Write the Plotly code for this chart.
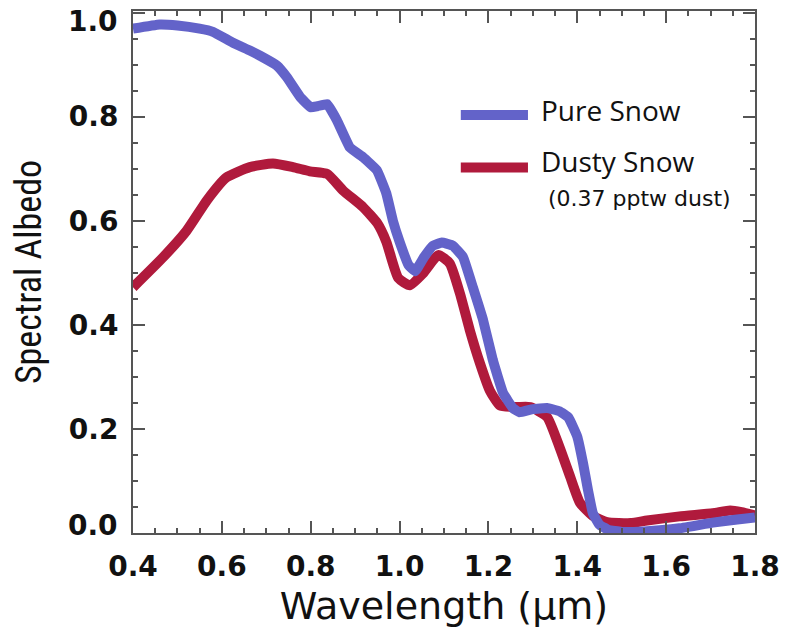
import plotly.graph_objects as go

# Pure snow spectral albedo
pure_wl = [0.40, 0.46, 0.50, 0.55, 0.58, 0.625, 0.663, 0.686, 0.724, 0.746, 0.776, 0.80,
           0.815, 0.837, 0.859, 0.888, 0.918, 0.949, 0.97, 0.985, 1.00, 1.02, 1.035, 1.055,
           1.075, 1.095, 1.12, 1.143, 1.165, 1.188, 1.21, 1.233, 1.255, 1.27, 1.30, 1.332,
           1.36, 1.38, 1.40, 1.413, 1.424, 1.435, 1.45, 1.47, 1.50, 1.55, 1.63, 1.705, 1.76, 1.80]
pure_alb = [0.969, 0.977, 0.975, 0.969, 0.963, 0.942, 0.927, 0.917, 0.898, 0.876, 0.838, 0.818,
            0.82, 0.824, 0.793, 0.741, 0.722, 0.697, 0.653, 0.60, 0.56, 0.515, 0.503, 0.53,
            0.552, 0.558, 0.552, 0.53, 0.472, 0.409, 0.332, 0.269, 0.24, 0.232, 0.238, 0.24,
            0.234, 0.222, 0.185, 0.134, 0.083, 0.038, 0.016, 0.006, 0.002, 0.003, 0.009, 0.02, 0.026, 0.03]

# Dusty snow spectral albedo
dusty_wl = [0.40, 0.468, 0.52, 0.567, 0.61, 0.663, 0.715, 0.76, 0.798, 0.837, 0.873, 0.918,
            0.95, 0.97, 0.997, 1.023, 1.053, 1.087, 1.113, 1.136, 1.158, 1.181, 1.203, 1.226,
            1.26, 1.294, 1.332, 1.36, 1.384, 1.406, 1.435, 1.467, 1.52, 1.557, 1.63, 1.705,
            1.744, 1.77, 1.80]
dusty_alb = [0.472, 0.53, 0.58, 0.64, 0.683, 0.703, 0.71, 0.703, 0.695, 0.69, 0.658, 0.626,
             0.595, 0.56, 0.49, 0.476, 0.499, 0.534, 0.518, 0.46, 0.39, 0.326, 0.274, 0.245,
             0.242, 0.242, 0.223, 0.165, 0.108, 0.058, 0.033, 0.021, 0.019, 0.024, 0.032, 0.038,
             0.043, 0.04, 0.034]

x_ticks = [0.4, 0.6, 0.8, 1.0, 1.2, 1.4, 1.6, 1.8]
y_ticks = [0.0, 0.2, 0.4, 0.6, 0.8, 1.0]
y_end_labels = ["0.0", "1.0"]   # end labels nudged inside the frame, as in the original

BLUE = "#6363c9"
RED = "#b01a3c"
AXC = "#555555"

fig = go.Figure()
fig.add_trace(go.Scatter(x=dusty_wl, y=dusty_alb, mode="lines", name="Dusty Snow",
                         line=dict(color=RED, width=10, shape="spline", smoothing=0.5)))
fig.add_trace(go.Scatter(x=pure_wl, y=pure_alb, mode="lines", name="Pure Snow",
                         line=dict(color=BLUE, width=10, shape="spline", smoothing=0.3)))

tickfont = dict(family="DejaVu Sans", size=28, color="#111111", weight="bold")
common = dict(showline=True, linecolor=AXC, linewidth=2, mirror="allticks",
              ticks="inside", ticklen=12, tickwidth=1.5, tickcolor=AXC,
              showgrid=False, zeroline=False, tickfont=tickfont, automargin=False)

fig.update_xaxes(range=[0.4, 1.8], tickvals=x_ticks,
                 ticktext=[f"{v:.1f}" for v in x_ticks], ticklabelstandoff=7,
                 ticklabeloverflow="allow",
                 minor=dict(ticks="inside", ticklen=5, tickwidth=1.5, tickcolor=AXC, dtick=0.05, tick0=0.4),
                 title=dict(text="Wavelength (μm)", font=dict(family="DejaVu Sans", size=38, color="#111111"),
                            standoff=21),
                 **common)
fig.update_yaxes(range=[0, 1.003], tickvals=y_ticks,
                 ticktext=["" if f"{v:.1f}" in y_end_labels else f"{v:.1f}" for v in y_ticks],
                 ticklabelstandoff=7,
                 minor=dict(ticks="inside", ticklen=5, tickwidth=1.5, tickcolor=AXC, dtick=0.05, tick0=0),
                 title=dict(text="Spectral Albedo",
                            font=dict(family="Liberation Sans Narrow, Roboto Condensed, Roboto", size=36, color="#111111"),
                            standoff=16),
                 **common)

# end tick labels of the y axis, kept inside the frame height
for txt, ypos in zip(y_end_labels, [0.0153, 0.979]):
    fig.add_annotation(xref="paper", yref="paper", x=-0.021, y=ypos, xanchor="right", yanchor="middle",
                       text=txt, showarrow=False, font=tickfont)

# legend drawn inside the plot
fig.add_shape(type="line", xref="paper", yref="paper", x0=0.527, x1=0.635, y0=0.801, y1=0.801,
              line=dict(color=BLUE, width=10))
fig.add_shape(type="line", xref="paper", yref="paper", x0=0.527, x1=0.635, y0=0.700, y1=0.700,
              line=dict(color=RED, width=10))
legfont = dict(family="Open Sans", size=28, color="#111111")
fig.add_annotation(xref="paper", yref="paper", x=0.653, y=0.810, xanchor="left", yanchor="middle",
                   text="Pure Snow", showarrow=False, font=legfont)
fig.add_annotation(xref="paper", yref="paper", x=0.653, y=0.713, xanchor="left", yanchor="middle",
                   text="Dusty Snow", showarrow=False, font=legfont)
fig.add_annotation(xref="paper", yref="paper", x=0.965, y=0.640, xanchor="right", yanchor="middle",
                   text="(0.37 pptw dust)", showarrow=False,
                   font=dict(family="DejaVu Sans", size=22, color="#111111"))

fig.update_layout(width=786, height=628, margin=dict(l=133, r=31, t=11, b=95),
                  paper_bgcolor="white", plot_bgcolor="white", showlegend=False)

fig.write_html("out.html", config={"displayModeBar": False},
               post_script="document.body.style.margin='0';")
